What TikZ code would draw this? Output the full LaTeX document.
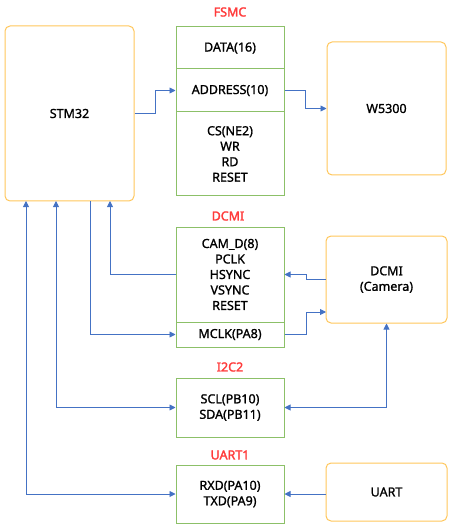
\documentclass[tikz,border=0pt]{standalone}
\usepackage{fontspec}
\setmainfont{Noto Sans}
\newfontfamily\boxfont{Noto Sans}[FakeBold=1.2]
\newfontfamily\lblfont{Noto Sans}[FakeBold=2.2]
\usetikzlibrary{arrows.meta}
\definecolor{arrblue}{HTML}{4472C4}
\definecolor{boxgreen}{HTML}{8CC068}
\definecolor{boxorange}{HTML}{FFC65A}
\definecolor{lblred}{HTML}{FF3B3B}
\tikzset{
  chip/.style={draw=boxorange, line width=1pt, rounded corners=5pt, inner sep=0pt,
    font=\boxfont\fontsize{12.5}{15.5}\selectfont, align=center},
  sigbox/.style={draw=boxgreen, line width=1pt, inner sep=0pt,
    font=\boxfont\fontsize{12.5}{15.5}\selectfont, align=center, minimum width=108pt},
  grplabel/.style={text=lblred, font=\lblfont\fontsize{12.5}{14}\selectfont},
  arr/.style={draw=arrblue, line width=0.9pt, -{Triangle[length=6pt,width=6pt]}},
  biarr/.style={draw=arrblue, line width=0.9pt, {Triangle[length=6pt,width=6pt]}-{Triangle[length=6pt,width=6pt]}}
}
\begin{document}
\begin{tikzpicture}[x=1pt,y=-1pt]
\useasboundingbox (0,0) rectangle (457,529);
% chips
\node[chip, minimum width=129pt, minimum height=175pt] (stm) at (69.5,113.5) {STM32};
\node[chip, minimum width=119pt, minimum height=133pt] (w5300) at (386.5,108.5) {W5300};
\node[chip, minimum width=121pt, minimum height=87pt] (cam) at (386.5,279.5) {DCMI\\(Camera)};
\node[chip, minimum width=121pt, minimum height=58pt] (uart) at (386.5,492) {UART};
% FSMC
\node[grplabel] (lfsmc) at (230,12) {FSMC};
\node[sigbox, minimum height=42pt] (data) at (230,48) {DATA(16)};
\node[sigbox, minimum height=43pt] (addr) at (230,90.5) {ADDRESS(10)};
\node[sigbox, minimum height=84pt] (cs) at (230,154) {CS(NE2)\\WR\\RD\\RESET};
% DCMI
\node[grplabel] (ldcmi) at (228,216) {DCMI};
\node[sigbox, minimum height=95pt] (dsig) at (230,274.5) {CAM\_D(8)\\PCLK\\HSYNC\\VSYNC\\RESET};
\node[sigbox, minimum height=25pt] (mclk) at (230,334.5) {MCLK(PA8)};
% I2C2
\node[grplabel] (li2c) at (230,367) {I2C2};
\node[sigbox, minimum height=59pt] (i2c) at (230,407.5) {SCL(PB10)\\SDA(PB11)};
% UART1
\node[grplabel] (luart1) at (230,455) {UART1};
\node[sigbox, minimum height=58pt] (uart1) at (230,494) {RXD(PA10)\\TXD(PA9)};
% free ends on STM32 bottom and camera side
\coordinate (s1) at (26,201);
\coordinate (s2) at (56,201);
\coordinate (s3) at (90,201);
\coordinate (s4) at (110,201);
\coordinate (c2) at (326,312);
% connectors
\draw[arr] (stm.east) -- ++(21,0) |- (addr.west);
\draw[arr] (addr.east) -- (305,90.5) |- (w5300.west);
\draw[arr] (dsig.west) -| (s4);
\draw[arr] (s3) |- (mclk.west);
\draw[arr] (cam.west) -- (306,279.5) |- (dsig.east);
\draw[arr] (mclk.east) -- (306,334.5) |- (c2);
\draw[biarr] (cam.south) |- (i2c.east);
\draw[biarr] (s2) |- (i2c.west);
\draw[biarr] (s1) |- (uart1.west);
\draw[arr] (uart.west |- uart1.east) -- (uart1.east);
\end{tikzpicture}
\end{document}
